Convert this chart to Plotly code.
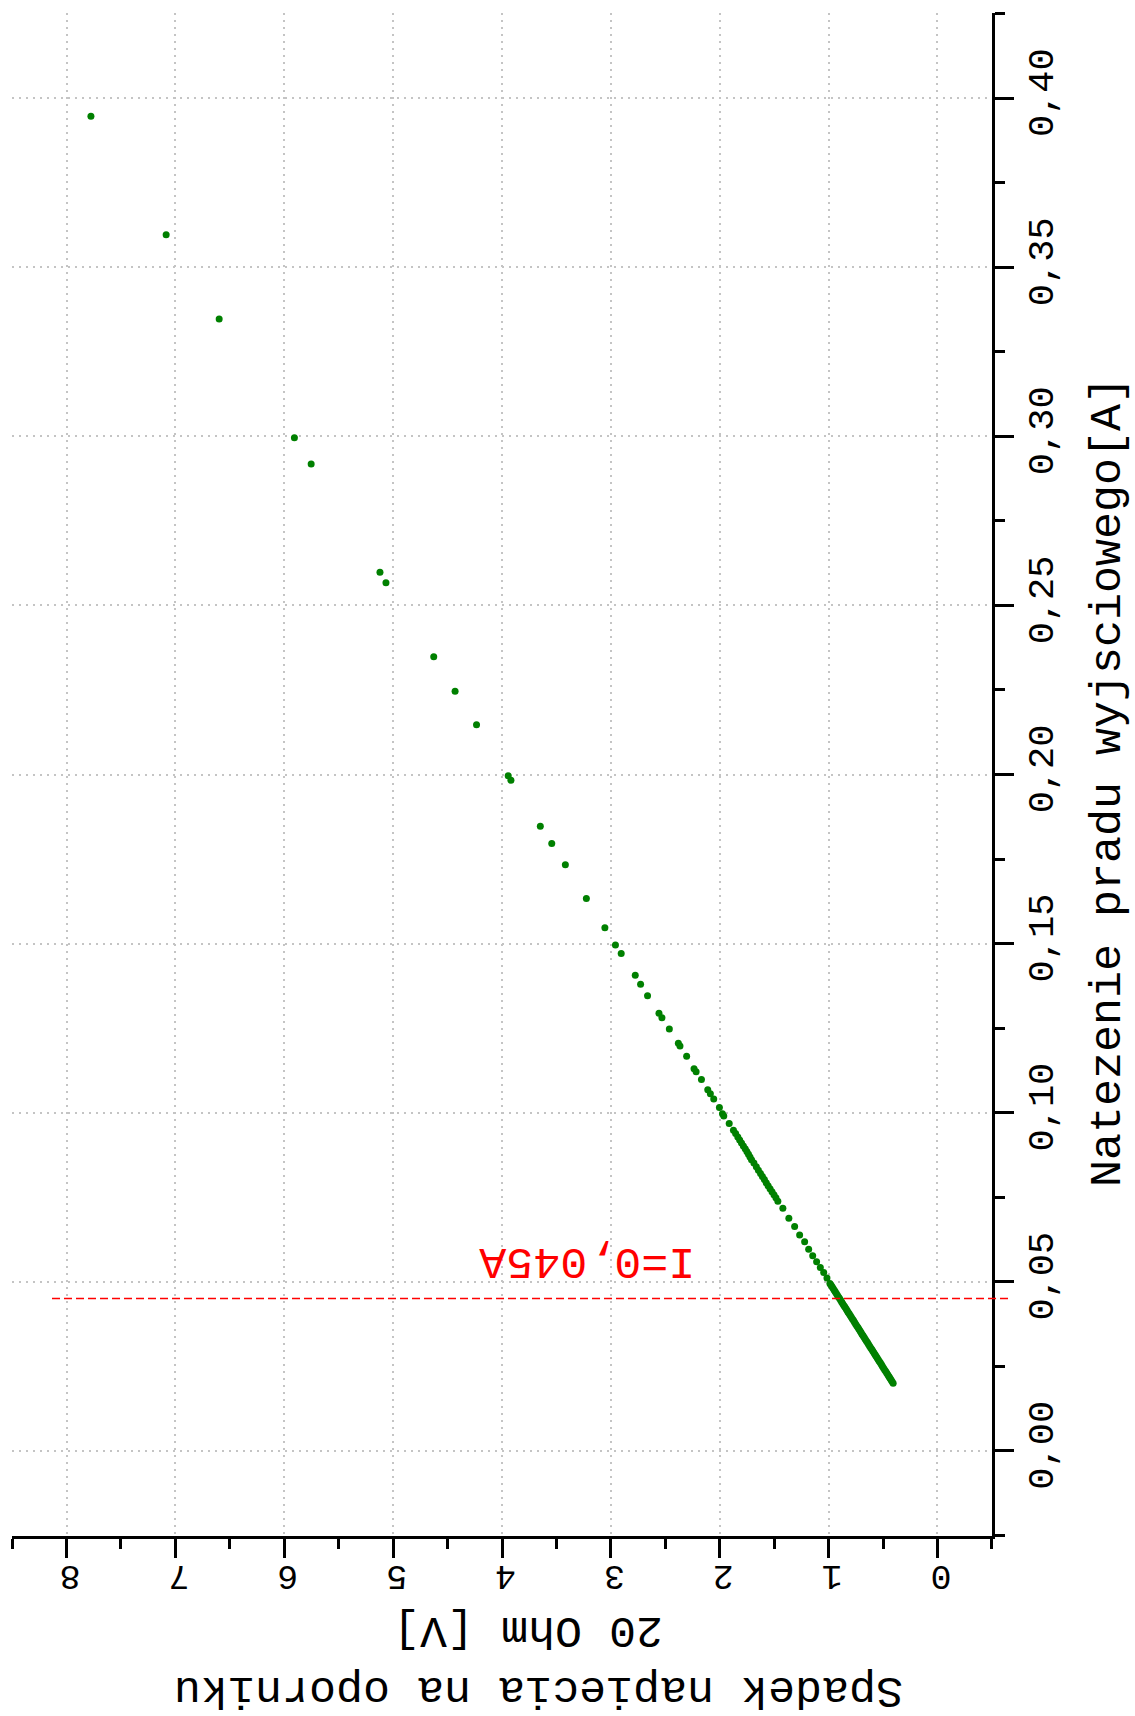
import plotly.graph_objects as go

# Current [A] (x of original chart, drawn here on the vertical axis)
current = [
    0.0200, 0.0205, 0.0210, 0.0215, 0.0220, 0.0225, 0.0230, 0.0235, 0.0240, 0.0245,
    0.0250, 0.0255, 0.0260, 0.0265, 0.0270, 0.0275, 0.0280, 0.0285, 0.0290, 0.0295,
    0.0300, 0.0305, 0.0310, 0.0315, 0.0320, 0.0325, 0.0330, 0.0335, 0.0340, 0.0345,
    0.0350, 0.0355, 0.0360, 0.0365, 0.0370, 0.0375, 0.0380, 0.0385, 0.0390, 0.0395,
    0.0400, 0.0405, 0.0410, 0.0415, 0.0420, 0.0425, 0.0430, 0.0435, 0.0440, 0.0445,
    0.0450, 0.0455, 0.0460, 0.0465, 0.0470, 0.0475, 0.0480, 0.0485, 0.0490, 0.0495,
    0.0511, 0.0527, 0.0542, 0.0559, 0.0577, 0.0596, 0.0618, 0.0638, 0.0663, 0.0688,
    0.0717, 0.0738, 0.0748, 0.0757, 0.0766, 0.0775, 0.0784, 0.0793, 0.0802, 0.0811,
    0.0820, 0.0830, 0.0840, 0.0851, 0.0861, 0.0869, 0.0877, 0.0885, 0.0893, 0.0901,
    0.0910, 0.0919, 0.0928, 0.0938, 0.0948, 0.0968, 0.0990, 0.0997, 0.1015, 0.1040,
    0.1056, 0.1068, 0.1098, 0.1121, 0.1130, 0.1167, 0.1197, 0.1205, 0.1247, 0.1281,
    0.1294, 0.1346, 0.1380, 0.1406, 0.1471, 0.1496, 0.1547, 0.1633, 0.1733, 0.1796,
    0.1847, 0.1983, 0.1996, 0.2147, 0.2246, 0.2348, 0.2567, 0.2598, 0.2918, 0.2996,
    0.3347, 0.3596, 0.3947,
]
# Voltage drop on the 20 Ohm resistor [V]
voltage = [
    0.407, 0.417, 0.427, 0.437, 0.446, 0.456, 0.466, 0.476, 0.486, 0.496,
    0.506, 0.515, 0.525, 0.535, 0.545, 0.555, 0.565, 0.574, 0.584, 0.594,
    0.604, 0.614, 0.624, 0.634, 0.643, 0.653, 0.663, 0.673, 0.683, 0.693,
    0.702, 0.712, 0.722, 0.732, 0.742, 0.752, 0.762, 0.771, 0.781, 0.791,
    0.801, 0.811, 0.821, 0.830, 0.840, 0.850, 0.860, 0.870, 0.880, 0.889,
    0.899, 0.909, 0.919, 0.929, 0.939, 0.948, 0.958, 0.968, 0.978, 0.988,
    1.015, 1.045, 1.076, 1.110, 1.146, 1.183, 1.220, 1.266, 1.312, 1.365,
    1.420, 1.466, 1.484, 1.502, 1.520, 1.538, 1.556, 1.573, 1.590, 1.608,
    1.625, 1.645, 1.664, 1.686, 1.708, 1.722, 1.736, 1.751, 1.766, 1.783,
    1.800, 1.817, 1.834, 1.854, 1.874, 1.913, 1.963, 1.975, 2.003, 2.055,
    2.086, 2.110, 2.168, 2.217, 2.236, 2.304, 2.365, 2.380, 2.463, 2.531,
    2.558, 2.663, 2.727, 2.776, 2.905, 2.958, 3.055, 3.225, 3.418, 3.543,
    3.648, 3.918, 3.943, 4.234, 4.431, 4.627, 5.066, 5.121, 5.753, 5.907,
    6.598, 7.085, 7.776,
]

marker_current = 0.045
marker_label = "I=0,045A"
x_title = "Natezenie pradu wyjsciowego[A]"
y_title_lines = ["Spadek napiecia na oporniku", "20 Ohm [V]"]
volt_ticks = [0, 1, 2, 3, 4, 5, 6, 7, 8]
curr_ticks = [0.00, 0.05, 0.10, 0.15, 0.20, 0.25, 0.30, 0.35, 0.40]

FONT = "Liberation Mono, Courier New, monospace"
W, H = 1135, 1716
L, R, T, B = 12, 992, 13, 1536  # plot area in pixels


def px(xp):
    return (xp - L) / (R - L)


def py(yp):
    return (B - yp) / (B - T)


fig = go.Figure()
fig.add_trace(go.Scatter(
    x=voltage, y=current, mode="markers",
    marker=dict(color="#008000", size=7, line=dict(width=0)),
    showlegend=False, cliponaxis=False,
))

fig.add_shape(type="line", xref="paper", yref="y",
              x0=px(52), x1=px(1012), y0=marker_current, y1=marker_current,
              line=dict(color="#ff0000", width=1.5, dash="8px,4px"), layer="above")

fig.add_annotation(x=3.218, y=0.0563, xref="x", yref="y", text=marker_label,
                   showarrow=False, textangle=180, font=dict(family=FONT, size=45, color="#ff0000"),
                   xanchor="center", yanchor="middle")

fig.add_annotation(x=px(1108), y=py(782), xref="paper", yref="paper", text=x_title,
                   showarrow=False, textangle=-90, font=dict(family=FONT, size=45, color="black"),
                   xanchor="center", yanchor="middle")
fig.add_annotation(x=px(539), y=py(1690), xref="paper", yref="paper", text=y_title_lines[0],
                   showarrow=False, textangle=180, font=dict(family=FONT, size=45, color="black"),
                   xanchor="center", yanchor="middle")
fig.add_annotation(x=px(528), y=py(1630), xref="paper", yref="paper", text=y_title_lines[1],
                   showarrow=False, textangle=180, font=dict(family=FONT, size=45, color="black"),
                   xanchor="center", yanchor="middle")

grid = dict(gridcolor="#c4c4c4", gridwidth=1.5, griddash="2px,5px")

fig.update_xaxes(
    range=[8.501, -0.501], tickvals=volt_ticks, ticktext=[str(v) for v in volt_ticks],
    tickangle=180, ticks="outside", ticklen=19, tickwidth=3, tickcolor="black",
    showline=True, linecolor="black", linewidth=3, zeroline=False, mirror=False,
    minor=dict(dtick=0.5, tick0=0, ticks="outside", ticklen=10, tickwidth=3, tickcolor="black", showgrid=False),
    tickfont=dict(family=FONT, size=35, color="black"), ticklabelstandoff=1, ticklabelshift=7,
    showgrid=True, **grid,
)
fig.update_yaxes(
    range=[-0.0252, 0.4252], tickvals=curr_ticks, tickformat=".2f", side="right",
    tickangle=-90, ticks="outside", ticklen=19, tickwidth=3, tickcolor="black",
    showline=True, linecolor="black", linewidth=3, zeroline=False, mirror=False,
    minor=dict(dtick=0.025, tick0=0, ticks="outside", ticklen=10, tickwidth=3, tickcolor="black", showgrid=False),
    tickfont=dict(family=FONT, size=37, color="black"), ticklabelstandoff=-5,
    showgrid=True, **grid,
)

fig.update_layout(
    width=W, height=H, separators=", ",
    margin=dict(l=L, r=W - R, t=T, b=H - B, pad=0),
    plot_bgcolor="white", paper_bgcolor="white",
    font=dict(family=FONT, color="black"),
)

fig.write_html("out.html")
